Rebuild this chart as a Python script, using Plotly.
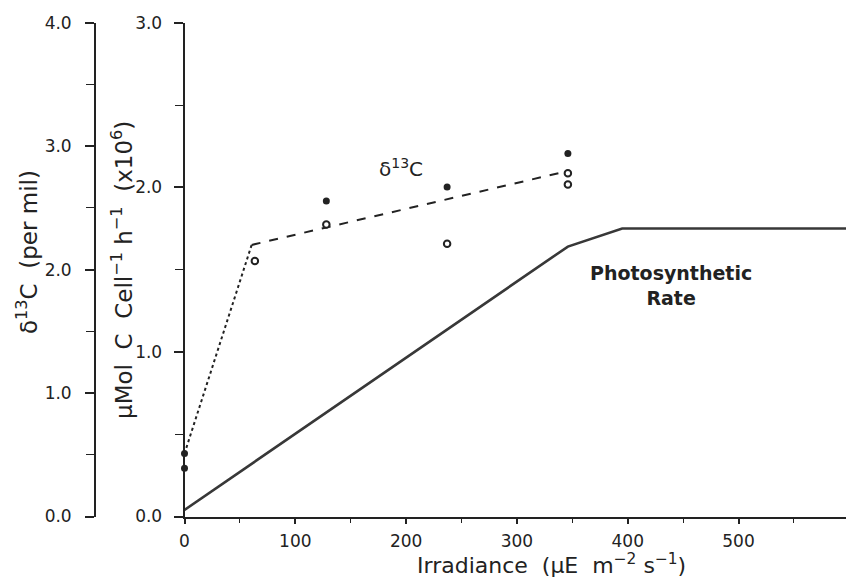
import plotly.graph_objects as go

# ---- data ----
photo_x = [0, 346, 395, 600]
photo_y = [0.04, 1.64, 1.75, 1.75]          # µMol C cell-1 h-1 (x10^6)

dotted_x = [0, 60.6]
dotted_y = [0.51, 2.20]                       # δ13C (per mil)
dashed_x = [60.6, 342]
dashed_y = [2.20, 2.79]

filled_x = [0, 0, 128, 237, 346]
filled_y = [0.51, 0.39, 2.555, 2.67, 2.94]
open_x = [63.5, 128, 237, 346, 346]
open_y = [2.07, 2.366, 2.21, 2.78, 2.69]

x_ticks = [0, 100, 200, 300, 400, 500]
rate_ticks = [0.0, 1.0, 2.0, 3.0]
d13c_ticks = [0.0, 1.0, 2.0, 3.0, 4.0]

W, H = 846, 580
FONT = "DejaVu Sans"

fig = go.Figure()
fig.add_trace(go.Scatter(x=photo_x, y=photo_y, mode="lines",
                         line=dict(color="#383838", width=2.6), yaxis="y"))
fig.add_trace(go.Scatter(x=dotted_x, y=dotted_y, mode="lines",
                         line=dict(color="#222", width=2, dash="dot"), yaxis="y2"))
fig.add_trace(go.Scatter(x=dashed_x, y=dashed_y, mode="lines",
                         line=dict(color="#222", width=2, dash="dash"), yaxis="y2"))
fig.add_trace(go.Scatter(x=filled_x, y=filled_y, mode="markers",
                         marker=dict(color="#222", size=7, symbol="circle"),
                         yaxis="y2", cliponaxis=False))
fig.add_trace(go.Scatter(x=open_x, y=open_y, mode="markers",
                         marker=dict(color="white", size=6.5, symbol="circle",
                                     line=dict(color="#222", width=2)),
                         yaxis="y2", cliponaxis=False))

x0 = 184.5 / W
ybot = (H - 516.5) / H
ytop = (H - 22.7) / H

axis_common = dict(showgrid=False, zeroline=False, showline=True,
                   linecolor="#222", linewidth=1.8, ticks="outside",
                   tickcolor="#222", tickwidth=1.6, automargin=False,
                   tickfont=dict(family=FONT, size=17, color="#222"))

fig.update_layout(
    width=W, height=H,
    margin=dict(l=0, r=0, t=0, b=0, autoexpand=False),
    paper_bgcolor="white", plot_bgcolor="white",
    showlegend=False,
    xaxis=dict(domain=[x0, 1.0], range=[0, 597], tickvals=x_ticks,
               ticklen=6, anchor="y", ticklabelstandoff=2,
               minor=dict(dtick=50, ticklen=5, ticks="outside",
                          tickcolor="#222", tickwidth=1.4),
               **axis_common),
    yaxis=dict(domain=[ybot, ytop], range=[0, 3], tickvals=rate_ticks,
               tickformat=".1f", ticklen=9, anchor="x", ticklabelstandoff=8,
               minor=dict(dtick=0.5, ticklen=8, ticks="outside",
                          tickcolor="#222", tickwidth=1.4),
               **axis_common),
    yaxis2=dict(domain=[ybot, ytop], range=[0, 4], tickvals=d13c_ticks,
                tickformat=".1f", ticklen=9, overlaying="y", anchor="free",
                position=95 / W, side="left", ticklabelstandoff=10,
                minor=dict(dtick=0.5, ticklen=8, ticks="outside",
                           tickcolor="#222", tickwidth=1.4),
                **axis_common),
)

def ann(text, px, py, size, angle=0, bold=False):
    if bold:
        text = "<b>" + text + "</b>"
    fig.add_annotation(text=text, x=px / W, y=(H - py) / H, xref="paper",
                       yref="paper", showarrow=False, textangle=angle,
                       xanchor="center", yanchor="middle",
                       font=dict(family=FONT, size=size, color="#222"))

ann("δ<sup>13</sup>C", 401, 168, 20)
ann("Photosynthetic<br>Rate", 671, 285, 19, bold=True)
ann("δ<sup>13</sup>C  (per mil)", 27, 252, 23, angle=-90)
ann("µMol  C  Cell<sup>−1</sup> h<sup>−1</sup>  (x10<sup>6</sup>)", 122, 270, 23, angle=-90)
ann("Irradiance  (µE  m<sup>−2</sup> s<sup>−1</sup>)", 551, 564, 22)

fig.write_html("out.html",
               config={"displayModeBar": False},
               post_script="document.body.style.margin='0px';"
                           "document.body.style.overflow='hidden';")
